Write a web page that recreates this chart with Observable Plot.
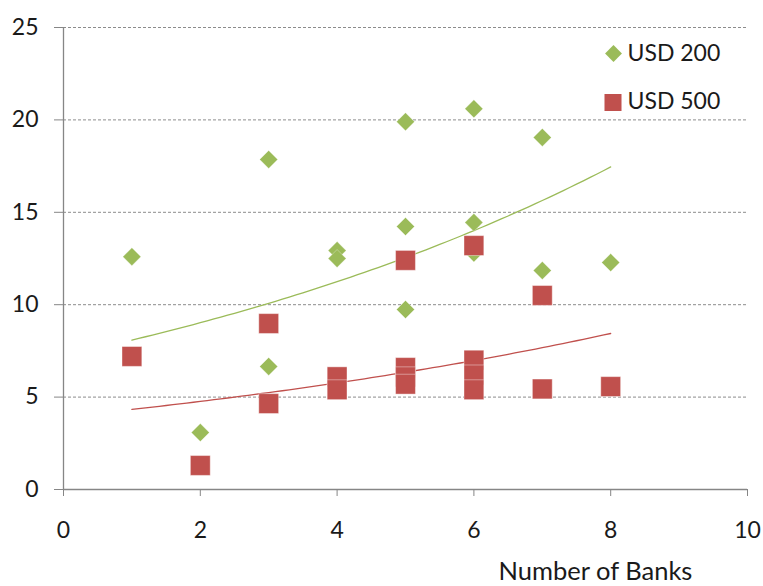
<!DOCTYPE html>
<html><head><meta charset="utf-8">
<script src="https://cdn.jsdelivr.net/npm/d3@7"></script>
<script src="https://cdn.jsdelivr.net/npm/@observablehq/plot@0.6"></script>
<style>body{margin:0;background:#fff;} #chart{width:763px;height:586px;overflow:hidden;}</style>
</head><body><div id="chart"></div>
<script>
const seriesNames = ["USD 200", "USD 500"];
const seriesColors = ["#9BBB59", "#C0504D"];
const banks200 = [1, 2, 3, 3, 4, 4, 5, 5, 5, 6, 6, 6, 7, 7, 8];
const usd200 = [12.6, 3.08, 17.86, 6.66, 12.93, 12.5, 19.9, 14.23, 9.74, 20.6, 14.45, 12.8, 19.05, 11.85, 12.28];
const banks500 = [1, 2, 3, 3, 4, 4, 5, 5, 5, 5, 6, 6, 6, 6, 7, 7, 8];
const usd500 = [7.2, 1.3, 8.98, 4.65, 6.1, 5.4, 12.4, 6.6, 6.1, 5.7, 13.2, 7.0, 6.2, 5.4, 10.5, 5.44, 5.57];
const xTicks = [0, 2, 4, 6, 8, 10];
const yTicks = [0, 5, 10, 15, 20, 25];
const gridTicks = [5, 10, 15, 20, 25];
const xLabel = "Number of Banks";

const pts200 = banks200.map((x, i) => ({x, y: usd200[i]}));
const pts500 = banks500.map((x, i) => ({x, y: usd500[i]}));

// Exponential trendline (least squares on ln y), like a spreadsheet trendline
function expTrend(pts) {
  const mx = d3.mean(pts, d => d.x), my = d3.mean(pts, d => Math.log(d.y));
  const sxy = d3.sum(pts, d => (d.x - mx) * (Math.log(d.y) - my));
  const sxx = d3.sum(pts, d => (d.x - mx) ** 2);
  const b = sxy / sxx, a = Math.exp(my - b * mx);
  const [x0, x1] = d3.extent(pts, d => d.x);
  return d3.range(x0, x1 + 1e-9, 0.1).map(x => ({x, y: a * Math.exp(b * x)}));
}
const trend200 = expTrend(pts200);
const trend500 = expTrend(pts500);

const font = "Lato, 'Open Sans', sans-serif";
const axisColor = "#868686";
const textColor = "#1a1a1a";

const chart = Plot.plot({
  width: 763,
  height: 586,
  marginLeft: 63,
  marginRight: 16,
  marginTop: 27,
  marginBottom: 97,
  style: {fontFamily: font, fontSize: "23px", color: textColor, background: "#fff"},
  x: {domain: [0, 10]},
  y: {domain: [0, 25]},
  marks: [
    Plot.ruleY(gridTicks, {stroke: "#8c8c8c", strokeDasharray: "3,2", strokeWidth: 1}),
    Plot.ruleX([0], {stroke: axisColor, strokeWidth: 1.3}),
    Plot.ruleY([0], {stroke: axisColor, strokeWidth: 1.3}),
    Plot.axisX({ticks: xTicks, tickSize: 7, tickPadding: 25, stroke: axisColor, fill: textColor, label: null, fontSize: 23}),
    Plot.axisY({ticks: yTicks, tickSize: 9, tickPadding: 16, stroke: axisColor, fill: textColor, label: null, fontSize: 23}),
    Plot.line(trend200, {x: "x", y: "y", stroke: seriesColors[0], strokeWidth: 1.3}),
    Plot.line(trend500, {x: "x", y: "y", stroke: seriesColors[1], strokeWidth: 1.3}),
    Plot.dot(pts200, {x: "x", y: "y", symbol: "diamond2", r: 8.1, fill: seriesColors[0], stroke: "#fff", strokeOpacity: 0.4, strokeWidth: 0.8}),
    Plot.dot(pts500, {x: "x", y: "y", symbol: "square", r: 11.2, fill: seriesColors[1], stroke: "#fff", strokeOpacity: 0.5, strokeWidth: 0.8}),
    // legend
    Plot.dot([seriesNames[0]], {frameAnchor: "top-right", dx: -134, dy: 26, symbol: "diamond2", r: 7.6, fill: seriesColors[0]}),
    Plot.dot([seriesNames[1]], {frameAnchor: "top-right", dx: -134.5, dy: 75, symbol: "square", r: 9.6, fill: seriesColors[1]}),
    Plot.text([seriesNames[0]], {text: d => d, frameAnchor: "top-right", lineAnchor: "middle", dx: -120, dy: 26, textAnchor: "start", fontSize: 23, fill: textColor}),
    Plot.text([seriesNames[1]], {text: d => d, frameAnchor: "top-right", lineAnchor: "middle", dx: -120, dy: 74, textAnchor: "start", fontSize: 23, fill: textColor}),
    Plot.text([xLabel], {text: d => d, frameAnchor: "bottom", lineAnchor: "middle", dx: 190, dy: 82, fontSize: 25.5, fill: textColor})
  ]
});
document.getElementById("chart").append(chart);
</script>
</body></html>
